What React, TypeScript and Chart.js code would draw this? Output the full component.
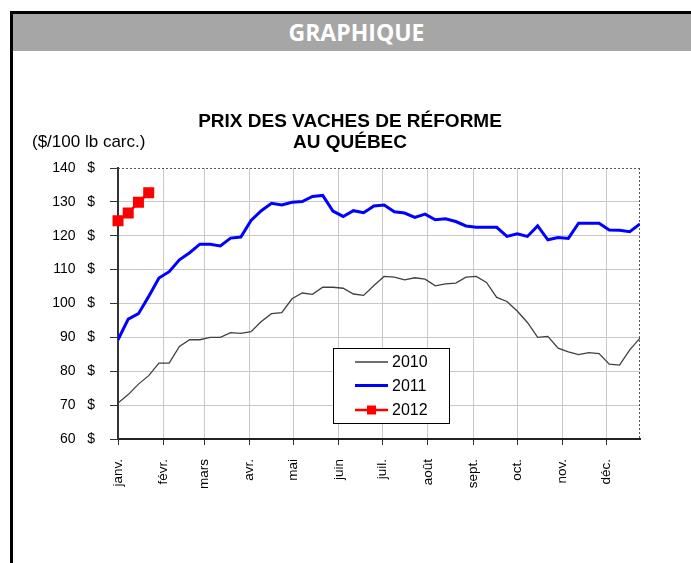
import React, { useEffect, useRef } from "react";
import { Chart, registerables } from "chart.js";

Chart.register(...registerables);

const MONTH_LABELS = ["janv.", "févr.", "mars", "avr.", "mai", "juin", "juil.", "août", "sept.", "oct.", "nov.", "déc."];
const MONTH_START_DAYS = [0, 31, 59, 90, 120, 151, 181, 212, 243, 273, 304, 334];
const WEEK_DAYS = [0, 7, 14, 21, 28, 35, 42, 49, 56, 63, 70, 77, 84, 91, 98, 105, 112, 119, 126, 133, 140, 147, 154, 161, 168, 175, 182, 189, 196, 203, 210, 217, 224, 231, 238, 245, 252, 259, 266, 273, 280, 287, 294, 301, 308, 315, 322, 329, 336, 343, 350, 357];
const Y_TICKS = [60, 70, 80, 90, 100, 110, 120, 130, 140];

const SERIES_2010 = [70.6, 73.1, 76.2, 78.7, 82.4, 82.4, 87.3, 89.3, 89.3, 90, 90, 91.4, 91.2, 91.7, 94.7, 97, 97.3, 101.4, 103.1, 102.7, 104.8, 104.8, 104.5, 102.8, 102.4, 105.3, 108, 107.8, 107, 107.6, 107.2, 105.2, 105.8, 106, 107.8, 108, 106.2, 101.8, 100.6, 97.8, 94.4, 90, 90.3, 86.8, 85.7, 84.9, 85.5, 85.2, 82.1, 81.8, 86.3, 89.8];
const SERIES_2011 = [89.3, 95.4, 97, 102.1, 107.5, 109.4, 112.9, 115, 117.5, 117.5, 117, 119.3, 119.6, 124.5, 127.4, 129.6, 129.1, 129.9, 130.1, 131.6, 131.9, 127.3, 125.7, 127.4, 126.8, 128.8, 129.1, 127.1, 126.7, 125.4, 126.4, 124.7, 125, 124.2, 122.9, 122.5, 122.5, 122.5, 119.8, 120.6, 119.8, 122.9, 118.8, 119.5, 119.2, 123.7, 123.7, 123.7, 121.7, 121.6, 121.2, 123.5];
const SERIES_2012 = [124.4, 126.7, 129.9, 132.7];

const SERIES_NAMES = ["2010", "2011", "2012"];
const TITLE_LINES = ["PRIX DES VACHES DE RÉFORME", "AU QUÉBEC"];
const UNIT_LABEL = "($/100 lb carc.)";

const FONT = "'Liberation Sans', Arial, sans-serif";

const toPoints = (vals: number[]) => vals.map((v, i) => ({ x: WEEK_DAYS[i], y: v }));

const framePlugin = {
  id: "frameAndLegend",
  beforeDatasetsDraw(chart: any) {
    const { ctx, chartArea: a } = chart;
    ctx.save();
    ctx.strokeStyle = "#555";
    ctx.lineWidth = 1;
    ctx.setLineDash([2, 2]);
    ctx.beginPath();
    ctx.moveTo(a.left, a.top + 0.5);
    ctx.lineTo(a.right, a.top + 0.5);
    ctx.moveTo(a.right - 0.5, a.top);
    ctx.lineTo(a.right - 0.5, a.bottom);
    ctx.stroke();
    ctx.restore();
  },
  afterDraw(chart: any) {
    const { ctx, chartArea: a } = chart;
    ctx.save();
    // title
    ctx.fillStyle = "#000";
    ctx.font = `bold 19px ${FONT}`;
    ctx.textAlign = "center";
    ctx.textBaseline = "middle";
    TITLE_LINES.forEach((line, i) => {
      ctx.fillText(line, chart.width / 2, a.top - 46 + i * 21);
    });

    // unit label
    ctx.font = `17px ${FONT}`;
    ctx.textAlign = "left";
    ctx.fillText(UNIT_LABEL, a.left - 86, a.top - 26);

    // legend
    const bx = a.left + 215;
    const by = a.top + 180;
    const bw = 116;
    const bh = 75;
    ctx.fillStyle = "#fff";
    ctx.fillRect(bx, by, bw, bh);
    ctx.strokeStyle = "#000";
    ctx.lineWidth = 1;
    ctx.strokeRect(bx + 0.5, by + 0.5, bw, bh);
    const rows = [14, 37.5, 62];
    chart.data.datasets.forEach((ds: any, i: number) => {
      const y = by + rows[i];
      ctx.strokeStyle = ds.borderColor;
      ctx.lineWidth = ds.borderWidth;
      ctx.beginPath();
      ctx.moveTo(bx + 22, y);
      ctx.lineTo(bx + 55, y);
      ctx.stroke();
      if (ds.pointRadius > 0) {
        ctx.fillStyle = ds.pointBackgroundColor;
        ctx.fillRect(bx + 38.5 - 4.5, y - 4.5, 9, 9);
      }
      ctx.fillStyle = "#000";
      ctx.font = `16px ${FONT}`;
      ctx.textAlign = "left";
      ctx.textBaseline = "middle";
      ctx.fillText(ds.label, bx + 59, y + 1);
    });
    ctx.restore();
  },
};

function ChartCanvas() {
  const ref = useRef<HTMLCanvasElement | null>(null);
  useEffect(() => {
    if (!ref.current) return;
    const chart = new Chart(ref.current, {
      type: "line",
      data: {
        datasets: [
          {
            label: SERIES_NAMES[0],
            data: toPoints(SERIES_2010),
            borderColor: "#404040",
            backgroundColor: "#404040",
            borderWidth: 1.3,
            pointRadius: 0,
            tension: 0,
          },
          {
            label: SERIES_NAMES[1],
            data: toPoints(SERIES_2011),
            borderColor: "#0000ff",
            backgroundColor: "#0000ff",
            borderWidth: 3,
            pointRadius: 0,
            tension: 0,
          },
          {
            label: SERIES_NAMES[2],
            data: toPoints(SERIES_2012),
            borderColor: "#ff0000",
            backgroundColor: "#ff0000",
            pointBackgroundColor: "#ff0000",
            pointBorderColor: "#ff0000",
            borderWidth: 2.5,
            pointStyle: "rect",
            pointRadius: 6,
            tension: 0,
            clip: false,
          },
        ],
      },
      options: {
        animation: false,
        responsive: false,
        maintainAspectRatio: false,
        layout: { padding: { left: 28, right: 40, top: 68, bottom: 0 } },
        plugins: {
          legend: { display: false },
          tooltip: { enabled: false },
          title: { display: false },
        },
        scales: {
          x: {
            type: "linear",
            min: 0,
            max: WEEK_DAYS[WEEK_DAYS.length - 1],
            afterBuildTicks: (s: any) => {
              s.ticks = MONTH_START_DAYS.map((v) => ({ value: v }));
            },
            afterFit: (s: any) => {
              s.height = 61;
            },
            ticks: {
              autoSkip: false,
              maxRotation: 90,
              minRotation: 90,
              padding: 14,
              color: "#000",
              font: { family: FONT, size: 13.5 },
              callback: (v: any) => {
                const idx = MONTH_START_DAYS.indexOf(Number(v));
                return idx >= 0 ? MONTH_LABELS[idx] : "";
              },
            },
            grid: { color: "#c8c8c8", tickColor: "#333", tickLength: 6, lineWidth: 1 },
            border: { color: "#222", width: 2 },
          },
          y: {
            min: 60,
            max: 140,
            afterBuildTicks: (s: any) => {
              s.ticks = Y_TICKS.map((v) => ({ value: v }));
            },
            afterFit: (s: any) => {
              s.width = 70;
            },
            ticks: {
              padding: 15,
              color: "#000",
              font: { family: FONT, size: 14 },
              callback: (v: any) => `${v}   $`,
            },
            grid: {
              color: (c: any) => (c.tick && c.tick.value === 140 ? "rgba(0,0,0,0)" : "#c8c8c8"),
              tickColor: "#333",
              tickLength: 8,
              lineWidth: 1,
            },
            border: { color: "#333", width: 2 },
          },
        },
      },
      plugins: [framePlugin],
    } as any);
    return () => chart.destroy();
  }, []);
  return (
    <canvas
      ref={ref}
      width={660}
      height={400}
      style={{ position: "absolute", left: 20, top: 100, width: 660, height: 400 }}
    />
  );
}

export default function App() {
  return (
    <div
      style={{
        position: "fixed",
        left: 0,
        top: 0,
        width: 691,
        height: 563,
        overflow: "hidden",
        background: "#fff",
      }}
    >
      <div
        style={{
          position: "absolute",
          left: 10,
          top: 11,
          width: 700,
          height: 620,
          borderLeft: "3px solid #000",
          borderTop: "3px solid #000",
          boxSizing: "border-box",
        }}
      >
        <div
          style={{
            height: 37,
            background: "#a6a6a6",
            color: "#fff",
            fontFamily: "'Open Sans', sans-serif",
            fontWeight: 700,
            fontSize: 23,
            lineHeight: "37px",
            textAlign: "center",
            paddingRight: 10,
          }}
        >
          GRAPHIQUE
        </div>
      </div>
      <ChartCanvas />
    </div>
  );
}
